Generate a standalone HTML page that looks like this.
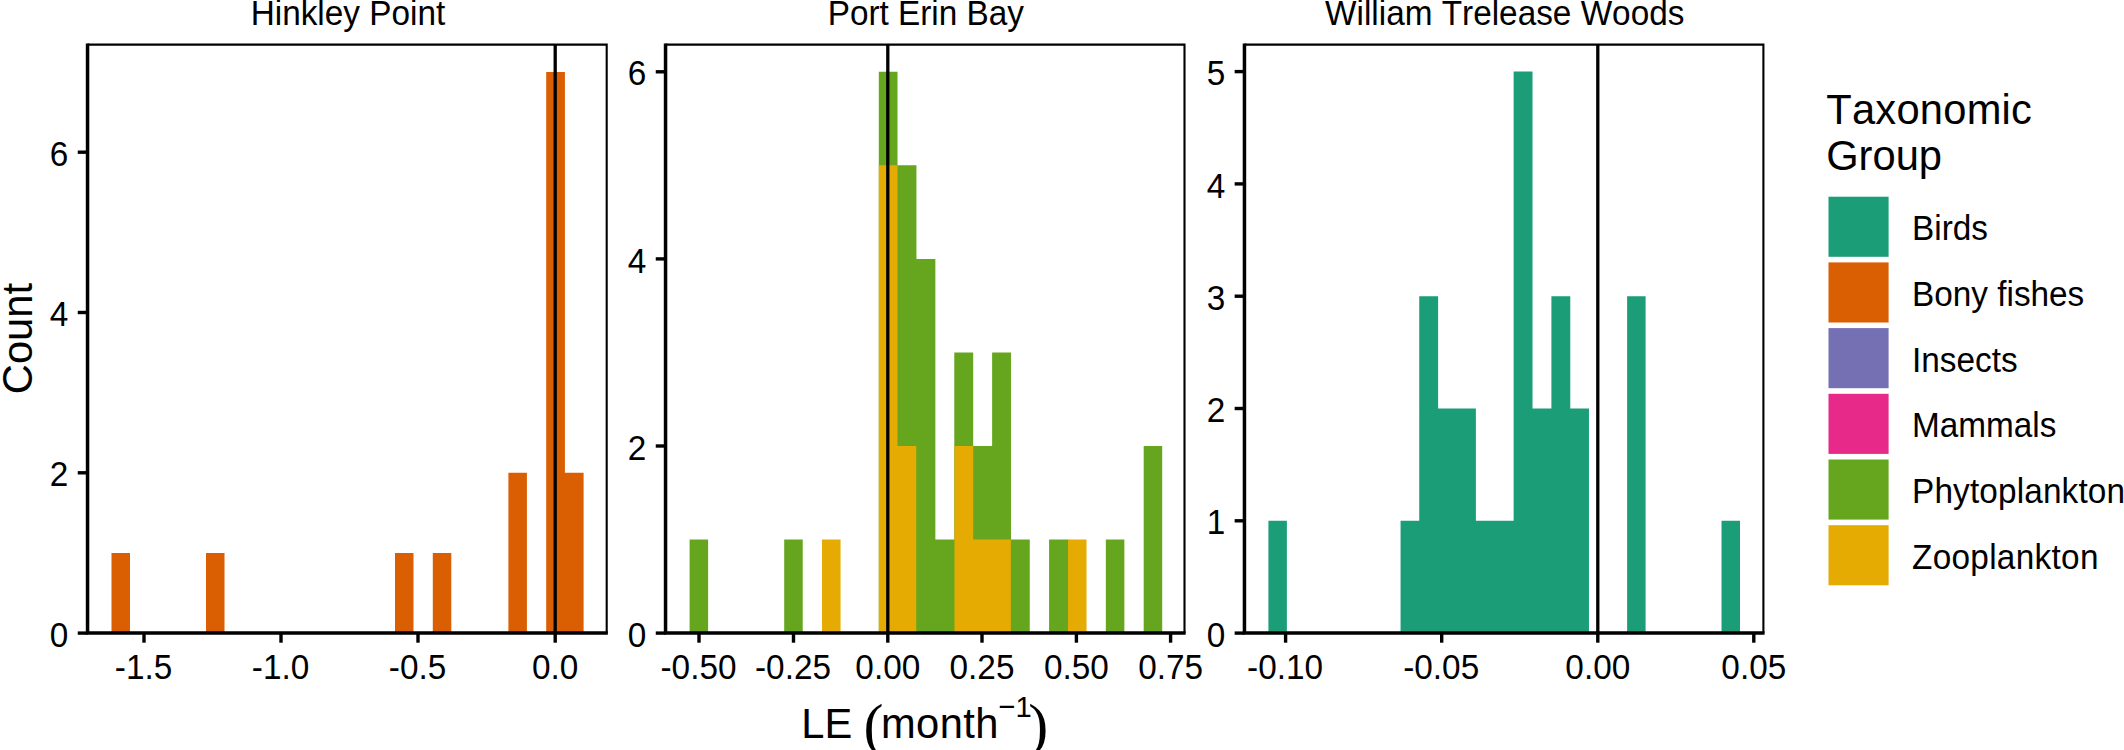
<!DOCTYPE html>
<html lang="en"><head><meta charset="utf-8"><title>LE histograms</title>
<style>html,body{margin:0;padding:0;background:#fff;}body{width:2124px;height:750px;overflow:hidden;}svg{display:block;}text{font-kerning:none;}</style></head>
<body>
<svg width="2124" height="750" viewBox="0 0 2124 750" font-family='"Liberation Sans", sans-serif' fill="#000">
<rect x="0" y="0" width="2124" height="750" fill="#fff"/>
<g>
<path d="M111.5 633.1V552.95H130V633.1ZM206 633.1V552.95H224.5V633.1ZM395 633.1V552.95H413.5V633.1ZM432.8 633.1V552.95H451.3V633.1ZM508.4 633.1V472.8H526.9V633.1ZM546.2 633.1V72.05H564.9V472.8H583.6V633.1Z" fill="#D95F02"/>
<line x1="555.2" y1="44.6" x2="555.2" y2="633.1" stroke="#000" stroke-width="3.3"/>
<path d="M87.55 44.6H606.7V633.1" fill="none" stroke="#000" stroke-width="2.1" stroke-linejoin="miter"/>
<path d="M87.55 43.5V633.1H607.85" fill="none" stroke="#000" stroke-width="3.5" stroke-linejoin="miter" stroke-linecap="butt"/>
<line x1="77.75" y1="633.1" x2="87.55" y2="633.1" stroke="#000" stroke-width="3.4"/>
<text transform="translate(68.35 646.7) scale(1 1.04)" font-size="33.33" text-anchor="end">0</text>
<line x1="77.75" y1="472.8" x2="87.55" y2="472.8" stroke="#000" stroke-width="3.4"/>
<text transform="translate(68.35 486.4) scale(1 1.04)" font-size="33.33" text-anchor="end">2</text>
<line x1="77.75" y1="312.5" x2="87.55" y2="312.5" stroke="#000" stroke-width="3.4"/>
<text transform="translate(68.35 326.1) scale(1 1.04)" font-size="33.33" text-anchor="end">4</text>
<line x1="77.75" y1="152.2" x2="87.55" y2="152.2" stroke="#000" stroke-width="3.4"/>
<text transform="translate(68.35 165.8) scale(1 1.04)" font-size="33.33" text-anchor="end">6</text>
<line x1="144" y1="633.1" x2="144" y2="642.7" stroke="#000" stroke-width="3.4"/>
<text transform="translate(143.5 678.8) scale(1 1.04)" font-size="33.33" text-anchor="middle">-1.5</text>
<line x1="281" y1="633.1" x2="281" y2="642.7" stroke="#000" stroke-width="3.4"/>
<text transform="translate(280.5 678.8) scale(1 1.04)" font-size="33.33" text-anchor="middle">-1.0</text>
<line x1="418" y1="633.1" x2="418" y2="642.7" stroke="#000" stroke-width="3.4"/>
<text transform="translate(417.5 678.8) scale(1 1.04)" font-size="33.33" text-anchor="middle">-0.5</text>
<line x1="555.2" y1="633.1" x2="555.2" y2="642.7" stroke="#000" stroke-width="3.4"/>
<text transform="translate(555.2 678.8) scale(1 1.04)" font-size="33.33" text-anchor="middle">0.0</text>
<text transform="translate(347.93 24.6) scale(1 1.04)" font-size="33.33" text-anchor="middle">Hinkley Point</text>
</g>
<g>
<path d="M689.6 633.1V539.55H708.12V633.1ZM784.2 633.1V539.55H802.72V633.1ZM878.8 633.1V71.8H897.52V165.35H916.44V258.9H935.36V539.55H954.28V352.45H973.2V446H992.12V352.45H1011.04V539.55H1029.76V633.1ZM1049.08 633.1V539.55H1068.8V633.1ZM1105.84 633.1V539.55H1124.36V633.1ZM1143.68 633.1V446H1162.2V633.1Z" fill="#66A61E"/>
<path d="M822.04 633.1V539.55H840.56V633.1ZM878.8 633.1V165.35H897.52V446H916.24V633.1ZM954.48 633.1V446H973.2V539.55H992.12V539.55H1010.84V633.1ZM1068 633.1V539.55H1086.52V633.1Z" fill="#E6AB02"/>
<line x1="887.8" y1="44.6" x2="887.8" y2="633.1" stroke="#000" stroke-width="3.3"/>
<path d="M665.55 44.6H1184.5V633.1" fill="none" stroke="#000" stroke-width="2.1" stroke-linejoin="miter"/>
<path d="M665.55 43.5V633.1H1185.65" fill="none" stroke="#000" stroke-width="3.5" stroke-linejoin="miter" stroke-linecap="butt"/>
<line x1="655.75" y1="633.1" x2="665.55" y2="633.1" stroke="#000" stroke-width="3.4"/>
<text transform="translate(646.35 646.7) scale(1 1.04)" font-size="33.33" text-anchor="end">0</text>
<line x1="655.75" y1="446" x2="665.55" y2="446" stroke="#000" stroke-width="3.4"/>
<text transform="translate(646.35 459.6) scale(1 1.04)" font-size="33.33" text-anchor="end">2</text>
<line x1="655.75" y1="258.9" x2="665.55" y2="258.9" stroke="#000" stroke-width="3.4"/>
<text transform="translate(646.35 272.5) scale(1 1.04)" font-size="33.33" text-anchor="end">4</text>
<line x1="655.75" y1="71.8" x2="665.55" y2="71.8" stroke="#000" stroke-width="3.4"/>
<text transform="translate(646.35 85.4) scale(1 1.04)" font-size="33.33" text-anchor="end">6</text>
<line x1="699" y1="633.1" x2="699" y2="642.7" stroke="#000" stroke-width="3.4"/>
<text transform="translate(698.5 678.8) scale(1 1.04)" font-size="33.33" text-anchor="middle">-0.50</text>
<line x1="793.5" y1="633.1" x2="793.5" y2="642.7" stroke="#000" stroke-width="3.4"/>
<text transform="translate(793 678.8) scale(1 1.04)" font-size="33.33" text-anchor="middle">-0.25</text>
<line x1="887.8" y1="633.1" x2="887.8" y2="642.7" stroke="#000" stroke-width="3.4"/>
<text transform="translate(887.8 678.8) scale(1 1.04)" font-size="33.33" text-anchor="middle">0.00</text>
<line x1="982" y1="633.1" x2="982" y2="642.7" stroke="#000" stroke-width="3.4"/>
<text transform="translate(982 678.8) scale(1 1.04)" font-size="33.33" text-anchor="middle">0.25</text>
<line x1="1076.4" y1="633.1" x2="1076.4" y2="642.7" stroke="#000" stroke-width="3.4"/>
<text transform="translate(1076.4 678.8) scale(1 1.04)" font-size="33.33" text-anchor="middle">0.50</text>
<line x1="1170.6" y1="633.1" x2="1170.6" y2="642.7" stroke="#000" stroke-width="3.4"/>
<text transform="translate(1170.6 678.8) scale(1 1.04)" font-size="33.33" text-anchor="middle">0.75</text>
<text transform="translate(925.82 24.6) scale(1 1.04)" font-size="33.33" text-anchor="middle">Port Erin Bay</text>
</g>
<g>
<path d="M1268.4 633.1V520.8H1286.88V633.1ZM1400.56 633.1V520.8H1419.24V296.2H1438.12V408.5H1457V408.5H1475.88V520.8H1494.76V520.8H1513.64V71.6H1532.52V408.5H1551.4V296.2H1570.28V408.5H1588.96V633.1ZM1627.12 633.1V296.2H1645.6V633.1ZM1721.52 633.1V520.8H1740V633.1Z" fill="#1B9E77"/>
<line x1="1597.8" y1="44.6" x2="1597.8" y2="633.1" stroke="#000" stroke-width="3.3"/>
<path d="M1244.45 44.6H1763.4V633.1" fill="none" stroke="#000" stroke-width="2.1" stroke-linejoin="miter"/>
<path d="M1244.45 43.5V633.1H1764.55" fill="none" stroke="#000" stroke-width="3.5" stroke-linejoin="miter" stroke-linecap="butt"/>
<line x1="1234.65" y1="633.1" x2="1244.45" y2="633.1" stroke="#000" stroke-width="3.4"/>
<text transform="translate(1225.25 646.7) scale(1 1.04)" font-size="33.33" text-anchor="end">0</text>
<line x1="1234.65" y1="520.8" x2="1244.45" y2="520.8" stroke="#000" stroke-width="3.4"/>
<text transform="translate(1225.25 534.4) scale(1 1.04)" font-size="33.33" text-anchor="end">1</text>
<line x1="1234.65" y1="408.5" x2="1244.45" y2="408.5" stroke="#000" stroke-width="3.4"/>
<text transform="translate(1225.25 422.1) scale(1 1.04)" font-size="33.33" text-anchor="end">2</text>
<line x1="1234.65" y1="296.2" x2="1244.45" y2="296.2" stroke="#000" stroke-width="3.4"/>
<text transform="translate(1225.25 309.8) scale(1 1.04)" font-size="33.33" text-anchor="end">3</text>
<line x1="1234.65" y1="183.9" x2="1244.45" y2="183.9" stroke="#000" stroke-width="3.4"/>
<text transform="translate(1225.25 197.5) scale(1 1.04)" font-size="33.33" text-anchor="end">4</text>
<line x1="1234.65" y1="71.6" x2="1244.45" y2="71.6" stroke="#000" stroke-width="3.4"/>
<text transform="translate(1225.25 85.2) scale(1 1.04)" font-size="33.33" text-anchor="end">5</text>
<line x1="1285.6" y1="633.1" x2="1285.6" y2="642.7" stroke="#000" stroke-width="3.4"/>
<text transform="translate(1285.1 678.8) scale(1 1.04)" font-size="33.33" text-anchor="middle">-0.10</text>
<line x1="1441.7" y1="633.1" x2="1441.7" y2="642.7" stroke="#000" stroke-width="3.4"/>
<text transform="translate(1441.2 678.8) scale(1 1.04)" font-size="33.33" text-anchor="middle">-0.05</text>
<line x1="1597.8" y1="633.1" x2="1597.8" y2="642.7" stroke="#000" stroke-width="3.4"/>
<text transform="translate(1597.8 678.8) scale(1 1.04)" font-size="33.33" text-anchor="middle">0.00</text>
<line x1="1753.8" y1="633.1" x2="1753.8" y2="642.7" stroke="#000" stroke-width="3.4"/>
<text transform="translate(1753.8 678.8) scale(1 1.04)" font-size="33.33" text-anchor="middle">0.05</text>
<text transform="translate(1504.73 24.6) scale(1 1.04)" font-size="33.33" text-anchor="middle">William Trelease Woods</text>
</g>
<text transform="translate(31.8 338.6) rotate(-90) scale(1 1.04)" font-size="41.67" text-anchor="middle">Count</text>
<text transform="translate(801.3 738.2) scale(1 1.04)" font-size="41.67">LE</text>
<text x="863.4" y="745" font-size="60" font-family='"Liberation Serif", "DejaVu Serif", serif'>(</text>
<text transform="translate(881 738.2) scale(1 1.04)" font-size="41.67" letter-spacing="0.4">month</text>
<text transform="translate(998.5 717) scale(1 1.04)" font-size="29.2">−1</text>
<text x="1028.3" y="745" font-size="60" font-family='"Liberation Serif", "DejaVu Serif", serif'>)</text>
<text transform="translate(1826.2 124) scale(1 1.04)" font-size="41.67" letter-spacing="0.25">Taxonomic</text>
<text transform="translate(1826.2 169.5) scale(1 1.04)" font-size="41.67">Group</text>
<rect x="1828.5" y="196.7" width="60.1" height="60.1" fill="#1B9E77"/>
<text transform="translate(1912 240.3) scale(1 1.04)" font-size="33.33">Birds</text>
<rect x="1828.5" y="262.4" width="60.1" height="60.1" fill="#D95F02"/>
<text transform="translate(1912 306) scale(1 1.04)" font-size="33.33">Bony fishes</text>
<rect x="1828.5" y="328.1" width="60.1" height="60.1" fill="#7570B3"/>
<text transform="translate(1912 371.7) scale(1 1.04)" font-size="33.33">Insects</text>
<rect x="1828.5" y="393.8" width="60.1" height="60.1" fill="#E7298A"/>
<text transform="translate(1912 437.4) scale(1 1.04)" font-size="33.33">Mammals</text>
<rect x="1828.5" y="459.5" width="60.1" height="60.1" fill="#66A61E"/>
<text transform="translate(1912 503.1) scale(1 1.04)" font-size="33.33" letter-spacing="0.15">Phytoplankton</text>
<rect x="1828.5" y="525.2" width="60.1" height="60.1" fill="#E6AB02"/>
<text transform="translate(1912 568.8) scale(1 1.04)" font-size="33.33" letter-spacing="0.3">Zooplankton</text>
</svg>
</body></html>
